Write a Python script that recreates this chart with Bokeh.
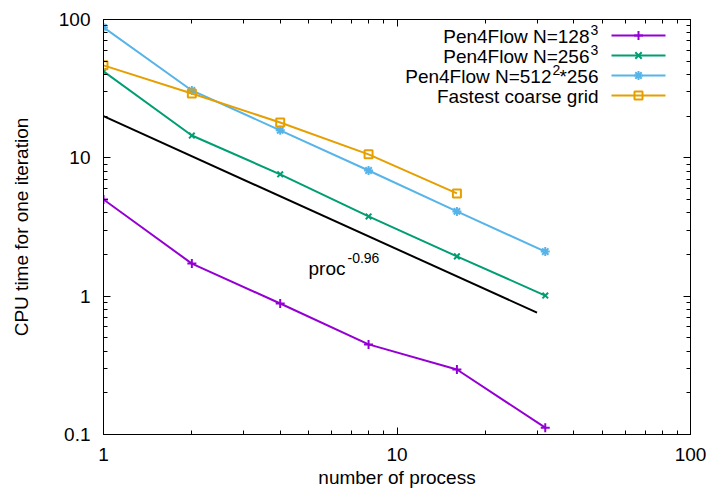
import math
from bokeh.plotting import figure
from bokeh.models import LogAxis, FixedTicker, CustomJSTickFormatter, Label, Range1d
from bokeh.embed import file_html
from bokeh.resources import INLINE

# ---------------- data ----------------
procs = [1, 2, 4, 8, 16, 32]
t_128 = [5.0, 1.72, 0.885, 0.448, 0.295, 0.112]
t_256 = [42.2, 14.5, 7.6, 3.77, 1.94, 1.01]
t_512 = [87.7, 30.7, 15.8, 8.1, 4.1, 2.1]
procs_fast = [1, 2, 4, 8, 16]
t_fast = [46.6, 29.2, 18.0, 10.6, 5.53]
fit_x = [1, 30]
fit_y = [20, 0.76]

x_ticks = [1, 10, 100]
y_ticks = [0.1, 1, 10, 100]
x_minor = [2, 3, 4, 5, 6, 7, 8, 9, 20, 30, 40, 50, 60, 70, 80, 90]
y_minor = [0.2, 0.3, 0.4, 0.5, 0.6, 0.7, 0.8, 0.9,
           2, 3, 4, 5, 6, 7, 8, 9,
           20, 30, 40, 50, 60, 70, 80, 90]

x_title = "number of process"
y_title = "CPU time for one iteration"
legend_main = ["Pen4Flow N=128", "Pen4Flow N=256", "Pen4Flow N=512", "Fastest coarse grid"]
legend_sup = ["3", "3", "2", ""]
legend_tail = ["", "", "*256", ""]

PURPLE = "#9400d3"
GREEN = "#009e73"
BLUE = "#56b4e9"
ORANGE = "#e69f00"
FONT = "Liberation Sans"
FS = "19px"
SFS = "14px"

# ---------------- layout ----------------
W, H = 711, 495
ML, MT, MR, MB = 103, 19, 21, 61
FW, FH = W - ML - MR, H - MT - MB

p = figure(width=W, height=H, x_axis_type="log", y_axis_type="log",
           x_range=Range1d(1, 100), y_range=Range1d(0.1, 100),
           output_backend="svg", toolbar_location=None,
           min_border_left=ML, min_border_top=MT,
           min_border_right=MR, min_border_bottom=MB)
p.grid.visible = False
p.outline_line_color = "black"
p.outline_line_width = 1
p.background_fill_color = "white"
p.border_fill_color = "white"

fmt = CustomJSTickFormatter(code="return tick >= 1 ? tick.toFixed(0) : tick.toFixed(1);")


def style_axis(ax, ticks, minor, labels=True):
    ax.ticker = FixedTicker(ticks=ticks, minor_ticks=minor)
    ax.major_tick_in = 7
    ax.major_tick_out = 0
    ax.minor_tick_in = 4
    ax.minor_tick_out = 0
    ax.axis_line_color = "black"
    ax.major_tick_line_color = "black"
    ax.minor_tick_line_color = "black"
    ax.formatter = fmt
    if labels:
        ax.major_label_text_font = FONT
        ax.major_label_text_font_size = FS
        ax.major_label_text_color = "black"
        ax.axis_label_text_font = FONT
        ax.axis_label_text_font_size = FS
        ax.axis_label_text_font_style = "normal"
        ax.axis_label_text_color = "black"
    else:
        ax.major_label_text_font_size = "1px"
        ax.major_label_text_alpha = 0
        ax.major_label_standoff = 0


xb = p.below[0]
yl = p.left[0]
style_axis(xb, x_ticks, x_minor)
style_axis(yl, y_ticks, y_minor)
xb.axis_label = x_title
xb.major_label_standoff = 13
xb.axis_label_standoff = 3
yl.axis_label = y_title
yl.major_label_standoff = 13
yl.axis_label_standoff = 24

xa = LogAxis()
style_axis(xa, x_ticks, x_minor, labels=False)
p.add_layout(xa, "above")
yr = LogAxis()
style_axis(yr, y_ticks, y_minor, labels=False)
p.add_layout(yr, "right")

# ---------------- series ----------------
p.line(procs, t_128, color=PURPLE, line_width=2)
p.scatter(procs, t_128, marker="cross", size=9, color=PURPLE, line_width=2)
p.line(procs, t_256, color=GREEN, line_width=2)
p.scatter(procs, t_256, marker="x", size=8, color=GREEN, line_width=2)
p.line(procs, t_512, color=BLUE, line_width=2)
p.scatter(procs, t_512, marker="asterisk", size=9, color=BLUE, line_width=2)
p.line(procs_fast, t_fast, color=ORANGE, line_width=2)
p.scatter(procs_fast, t_fast, marker="square", size=8, line_color=ORANGE,
          fill_color=None, line_width=2)
p.line(fit_x, fit_y, color="black", line_width=2)

# fit annotation
p.add_layout(Label(x=205, y=166, x_units="screen", y_units="screen", text="proc",
                   text_font=FONT, text_font_size=FS, text_baseline="middle",
                   text_align="left", text_color="black"))
p.add_layout(Label(x=244, y=177, x_units="screen", y_units="screen", text="-0.96",
                   text_font=FONT, text_font_size=SFS, text_baseline="middle",
                   text_align="left", text_color="black"))


# ---------------- legend (text left, sample right) ----------------
def fx(px):
    return 10 ** (px / FW * 2)


def fy(py_top):
    return 10 ** (2 - py_top / FH * 3)


colors = [PURPLE, GREEN, BLUE, ORANGE]
markers = ["cross", "x", "asterisk", "square"]
row_top = [16, 36, 56, 76]
for i in range(4):
    ry = row_top[i]
    yb = FH - ry - 1
    p.line([fx(508), fx(562)], [fy(ry), fy(ry)], color=colors[i], line_width=2)
    if markers[i] == "square":
        p.scatter([fx(535)], [fy(ry)], marker="square", size=8, line_color=colors[i],
                  fill_color=None, line_width=2)
    else:
        p.scatter([fx(535)], [fy(ry)], marker=markers[i], size=9, color=colors[i], line_width=2)
    if legend_tail[i]:
        p.add_layout(Label(x=495, y=yb, x_units="screen", y_units="screen", text=legend_tail[i],
                           text_font=FONT, text_font_size=FS, text_baseline="middle",
                           text_align="right", text_color="black"))
        p.add_layout(Label(x=449, y=yb + 7, x_units="screen", y_units="screen", text=legend_sup[i],
                           text_font=FONT, text_font_size=SFS, text_baseline="middle",
                           text_align="left", text_color="black"))
        p.add_layout(Label(x=448, y=yb, x_units="screen", y_units="screen", text=legend_main[i],
                           text_font=FONT, text_font_size=FS, text_baseline="middle",
                           text_align="right", text_color="black"))
    elif legend_sup[i]:
        p.add_layout(Label(x=486, y=yb, x_units="screen", y_units="screen", text=legend_main[i],
                           text_font=FONT, text_font_size=FS, text_baseline="middle",
                           text_align="right", text_color="black"))
        p.add_layout(Label(x=487, y=yb + 7, x_units="screen", y_units="screen", text=legend_sup[i],
                           text_font=FONT, text_font_size=SFS, text_baseline="middle",
                           text_align="left", text_color="black"))
    else:
        p.add_layout(Label(x=495, y=yb, x_units="screen", y_units="screen", text=legend_main[i],
                           text_font=FONT, text_font_size=FS, text_baseline="middle",
                           text_align="right", text_color="black"))

open("out.html", "w").write(file_html(p, INLINE))
